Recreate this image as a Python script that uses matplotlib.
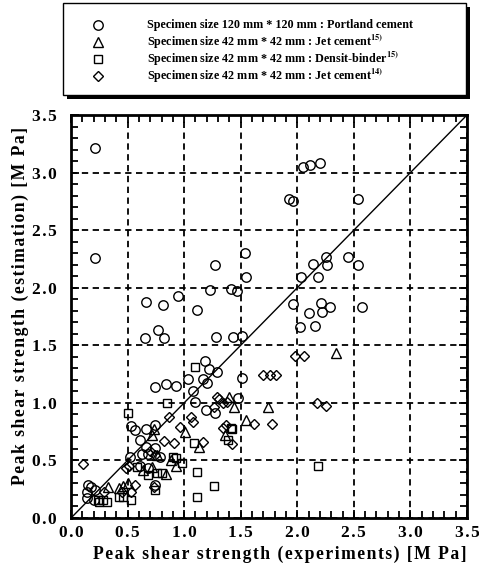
import matplotlib
matplotlib.use("Agg")
import matplotlib.pyplot as plt
from matplotlib.ticker import MultipleLocator
from matplotlib.patches import Rectangle

plt.rcParams['font.family'] = ['Liberation Serif', 'DejaVu Serif']
plt.rcParams['font.weight'] = 'bold'
plt.rcParams['mathtext.fontset'] = 'stix'

# ---- data: (experiment, estimation) in MPa ----
portland_x = [0.21, 0.21, 2.05, 2.11, 2.20, 1.93, 1.96, 2.54, 1.54, 1.27, 2.14, 2.25, 2.26, 2.45, 2.54,
              1.55, 2.03, 2.18, 0.66, 0.81, 0.95, 1.11, 1.23, 1.41, 1.47, 1.96, 2.10, 2.21, 2.22, 2.29,
              2.57, 2.02, 2.16, 0.65, 0.77, 0.82, 1.28, 1.43, 1.51, 1.18, 1.22, 1.29, 0.74, 0.84, 0.93,
              1.03, 1.17, 1.20, 1.51, 1.08, 1.10, 1.19, 1.27, 1.48, 0.53, 0.57, 0.66, 0.74, 0.61, 0.66,
              0.74, 0.52, 0.63, 0.68, 0.79, 0.61, 0.68, 0.74, 0.15, 0.18, 0.14, 0.21, 0.14, 0.20]
portland_y = [3.21, 2.26, 3.05, 3.07, 3.08, 2.77, 2.75, 2.77, 2.30, 2.20, 2.21, 2.27, 2.20, 2.27, 2.20,
              2.09, 2.09, 2.09, 1.88, 1.85, 1.93, 1.81, 1.98, 1.99, 1.97, 1.86, 1.78, 1.87, 1.79, 1.83,
              1.83, 1.66, 1.67, 1.56, 1.63, 1.56, 1.57, 1.57, 1.58, 1.36, 1.29, 1.27, 1.14, 1.16, 1.15,
              1.21, 1.21, 1.17, 1.22, 1.10, 1.01, 0.94, 0.91, 1.04, 0.80, 0.76, 0.77, 0.81, 0.68, 0.62,
              0.61, 0.53, 0.56, 0.56, 0.53, 0.45, 0.43, 0.29, 0.29, 0.27, 0.23, 0.24, 0.17, 0.16]

jet15_x = [2.34, 1.74, 1.44, 1.55, 1.01, 1.13, 1.36, 0.72, 0.84, 0.88, 0.93, 0.64, 0.72, 0.50,
           0.33, 0.42, 0.46, 0.73, 1.40, 0.76]
jet15_y = [1.43, 0.96, 0.96, 0.85, 0.75, 0.62, 0.72, 0.72, 0.38, 0.50, 0.45, 0.42, 0.44, 0.30,
           0.27, 0.26, 0.28, 0.77, 1.05, 0.55]

densit_x = [1.10, 0.85, 0.50, 2.18, 1.11, 1.26, 1.11, 1.09, 1.39, 1.41, 1.42, 0.58, 0.68, 0.76,
            0.80, 0.90, 0.93, 0.98, 0.74, 0.25, 0.28, 0.32, 0.42, 0.46, 0.53, 0.24]
densit_y = [1.31, 1.00, 0.91, 0.45, 0.40, 0.28, 0.18, 0.65, 0.68, 0.78, 0.77, 0.44, 0.37, 0.39,
            0.39, 0.53, 0.52, 0.48, 0.24, 0.14, 0.16, 0.14, 0.18, 0.18, 0.16, 0.16]

jet14_x = [1.98, 2.06, 1.70, 1.76, 1.81, 2.17, 2.25, 1.62, 1.78, 0.87, 1.06, 1.08, 0.96, 0.82,
           0.91, 1.17, 1.29, 1.31, 1.38, 1.34, 1.26, 1.34, 1.37, 1.42, 0.11, 0.49, 0.51, 0.74,
           0.29, 0.45, 0.53, 0.57, 0.70, 0.73]
jet14_y = [1.41, 1.41, 1.24, 1.24, 1.24, 1.00, 0.97, 0.82, 0.82, 0.88, 0.88, 0.83, 0.79, 0.67,
           0.65, 0.66, 1.05, 1.03, 1.01, 1.00, 0.96, 0.78, 0.81, 0.64, 0.47, 0.43, 0.45, 0.55,
           0.23, 0.23, 0.23, 0.29, 0.58, 0.27]

tick_values = [0.0, 0.5, 1.0, 1.5, 2.0, 2.5, 3.0, 3.5]
tick_labels = ['0.0', '0.5', '1.0', '1.5', '2.0', '2.5', '3.0', '3.5']
xlabel_text = 'Peak shear strength (experiments) [M Pa]'
ylabel_text = 'Peak shear strength (estimation) [M Pa]'
legend_labels = [r'Specimen size 120 mm * 120 mm : Portland cement',
                 r'Specimen size 42 mm * 42 mm : Jet cement$^{\mathbf{15)}}$',
                 r'Specimen size 42 mm * 42 mm : Densit-binder$^{\mathbf{15)}}$',
                 r'Specimen size 42 mm * 42 mm : Jet cement$^{\mathbf{14)}}$']


def spaced(s):
    return '\u200a'.join(s)


W, H = 479, 575
fig = plt.figure(figsize=(W / 100, H / 100), dpi=100)
ax = fig.add_axes([71 / W, 1 - 518 / H, (467 - 71) / W, (518 - 115) / H])

ax.set_xlim(0, 3.5)
ax.set_ylim(0, 3.5)
ax.plot([0, 3.5], [0, 3.5], color='black', lw=1.0, zorder=2)

kw = dict(linestyle='none', markerfacecolor='none', markeredgecolor='black', markeredgewidth=1.0, zorder=3)
ax.plot(portland_x, portland_y, marker='o', ms=6.8, **kw)
ax.plot(jet15_x, jet15_y, marker='^', ms=6.5, **kw)
ax.plot(densit_x, densit_y, marker='s', ms=6.2, **kw)
ax.plot(jet14_x, jet14_y, marker='D', ms=5.0, **kw)

ax.xaxis.set_minor_locator(MultipleLocator(0.1))
ax.yaxis.set_minor_locator(MultipleLocator(0.1))
ax.grid(True, which='major', color='black', linestyle=(0, (3.5, 2.5)), linewidth=1.3)
ax.tick_params(which='both', direction='in', top=True, right=True, width=1.3, colors='black')
ax.tick_params(which='major', length=6, labelsize=12.5, pad=5)
ax.tick_params(which='minor', length=5)
ax.tick_params(axis='y', which='major', pad=10)
for s in ax.spines.values():
    s.set_linewidth(2.0)
ax.set_xticks(tick_values)
ax.set_xticklabels([spaced(t) for t in tick_labels], fontweight='bold')
ax.set_yticks(tick_values)
ax.set_yticklabels([spaced(t) for t in tick_labels], fontweight='bold')

ax.set_xlabel(spaced(xlabel_text), fontsize=12.7, fontweight='bold')
ax.set_ylabel(spaced(ylabel_text), fontsize=12.7, fontweight='bold')
ax.xaxis.set_label_coords(0.528, -0.068)
ax.yaxis.set_label_coords(-0.105, 0.526)

# ---- legend box (pixel coordinates overlay) ----
ov = fig.add_axes([0, 0, 1, 1])
ov.set_xlim(0, W)
ov.set_ylim(H, 0)
ov.axis('off')
ov.add_patch(Rectangle((67, 7), 403, 92, facecolor='black', edgecolor='none'))
ov.add_patch(Rectangle((63, 3), 403, 92, facecolor='white', edgecolor='black', linewidth=1.0))
markers = ['o', '^', 's', 'D']
sizes = [6.8, 6.5, 6.2, 5.0]
rows = [25, 42, 59, 76]
for m, s, yy, lab in zip(markers, sizes, rows, legend_labels):
    ov.plot([98], [yy], marker=m, ms=s, **kw)
    ov.text(147, yy, lab, fontsize=8.7, fontweight='bold', va='center', ha='left')

fig.savefig('out.png', dpi=100)
